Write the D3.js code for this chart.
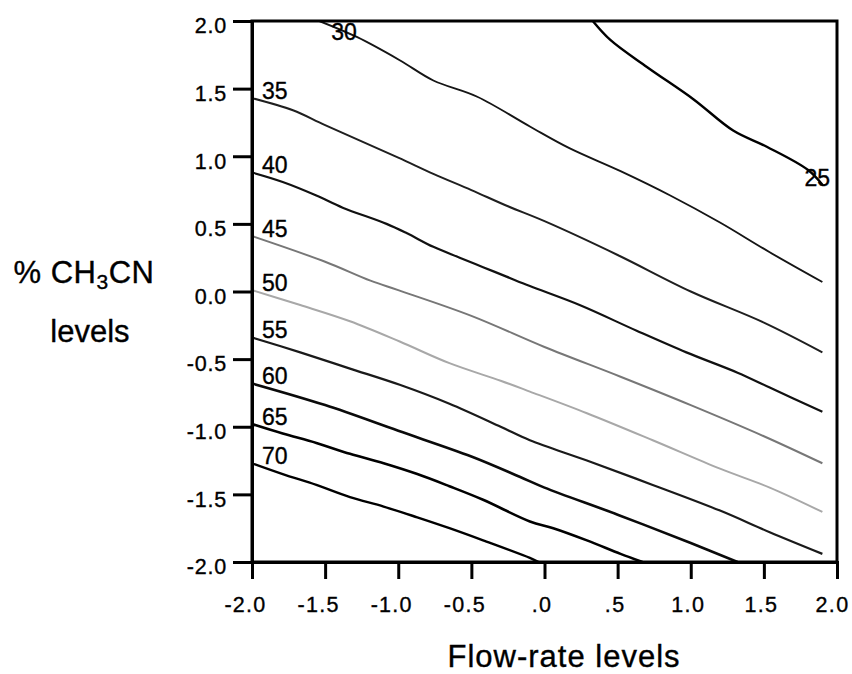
<!DOCTYPE html>
<html>
<head>
<meta charset="utf-8">
<script src="https://cdn.jsdelivr.net/npm/d3@7"></script>
<style>
  body { margin: 0; background: #fff; }
  svg text { font-family: "Liberation Sans", Arial, Helvetica, sans-serif; fill: #000; stroke: #000; stroke-width: 0.35px; }
</style>
</head>
<body>
<svg id="chart" width="852" height="674"></svg>
<script>
// axis ticks and labels
var xTicks = [-2, -1.5, -1, -0.5, 0, 0.5, 1, 1.5, 2];
var xTickLabels = ["-2.0", "-1.5", "-1.0", "-0.5", ".0", ".5", "1.0", "1.5", "2.0"];
var yTicks = [2, 1.5, 1, 0.5, 0, -0.5, -1, -1.5, -2];
var yTickLabels = ["2.0", "1.5", "1.0", "0.5", "0.0", "-0.5", "-1.0", "-1.5", "-2.0"];

// contour levels and the lines ([flow-rate, %CH3CN])
var levels = [25, 30, 35, 40, 45, 50, 55, 60, 65, 70];
var contour25 = [[0.33, 2.0], [0.45, 1.86], [0.70, 1.66], [1.02, 1.42], [1.29, 1.19], [1.52, 1.07], [1.80, 0.90], [1.90, 0.79]];
var contour30 = [[-1.54, 2.0], [-1.28, 1.88], [-0.99, 1.71], [-0.76, 1.56], [-0.46, 1.44], [-0.10, 1.22], [0.17, 1.06], [0.52, 0.89], [0.86, 0.71], [1.20, 0.51], [1.54, 0.29], [1.90, 0.07]];
var contour35 = [[-2.0, 1.43], [-1.72, 1.34], [-1.5, 1.23], [-1.0, 0.99], [-0.76, 0.87], [-0.5, 0.75], [-0.25, 0.63], [0.0, 0.52], [0.5, 0.27], [1.0, 0.0], [1.5, -0.23], [1.9, -0.45]];
var contour40 = [[-2.0, 0.88], [-1.79, 0.81], [-1.56, 0.71], [-1.38, 0.62], [-1.08, 0.50], [-0.94, 0.43], [-0.76, 0.33], [-0.58, 0.25], [-0.42, 0.18], [-0.26, 0.11], [-0.10, 0.04], [0.24, -0.10], [0.63, -0.29], [0.97, -0.45], [1.32, -0.60], [1.54, -0.71], [1.90, -0.89]];
var contour45 = [[-2.0, 0.41], [-1.5, 0.22], [-1.19, 0.08], [-1.0, 0.01], [-0.5, -0.18], [0.0, -0.41], [0.52, -0.63], [1.0, -0.84], [1.5, -1.07], [1.9, -1.27]];
var contour50 = [[-2.0, 0.01], [-1.67, -0.10], [-1.33, -0.22], [-0.99, -0.37], [-0.65, -0.53], [-0.30, -0.66], [-0.10, -0.74], [0.29, -0.90], [0.74, -1.10], [1.20, -1.31], [1.54, -1.45], [1.90, -1.63]];
var contour55 = [[-2.0, -0.34], [-1.67, -0.45], [-1.33, -0.57], [-0.99, -0.69], [-0.65, -0.83], [-0.30, -1.00], [-0.10, -1.10], [0.29, -1.25], [0.74, -1.43], [1.20, -1.62], [1.54, -1.78], [1.90, -1.94]];
var contour60 = [[-2.0, -0.68], [-1.5, -0.84], [-1.0, -1.03], [-0.5, -1.22], [-0.17, -1.37], [0.0, -1.45], [0.5, -1.65], [1.0, -1.86], [1.32, -2.0]];
var contour65 = [[-2.0, -0.98], [-1.79, -1.05], [-1.56, -1.12], [-1.33, -1.20], [-1.10, -1.27], [-0.87, -1.35], [-0.65, -1.44], [-0.42, -1.54], [-0.10, -1.70], [0.06, -1.75], [0.29, -1.84], [0.52, -1.94], [0.67, -2.0]];
var contour70 = [[-2.0, -1.27], [-1.79, -1.35], [-1.56, -1.43], [-1.33, -1.52], [-1.10, -1.59], [-0.87, -1.67], [-0.65, -1.75], [-0.42, -1.84], [-0.10, -1.97], [-0.04, -2.0]];

var contourLines = [contour25, contour30, contour35, contour40, contour45, contour50, contour55, contour60, contour65, contour70];

var margin = { top: 21, right: 15, bottom: 112, left: 252 },
    width = 837 - margin.left,
    height = 562 - margin.top;

var svg = d3.select("#chart");
var g = svg.append("g").attr("transform", "translate(" + margin.left + "," + margin.top + ")");

var x = d3.scaleLinear().domain([-2, 2]).range([0, width]);
var y = d3.scaleLinear().domain([-2, 2]).range([height, 0]);

// line colours / widths per level (45 and 50 are the grey ones)
var strokeFor = { 25: "#000", 30: "#151515", 35: "#1f1f1f", 40: "#111", 45: "#777", 50: "#a8a8a8", 55: "#1a1a1a", 60: "#0a0a0a", 65: "#000", 70: "#000" };
var widthFor = { 25: 2.4, 30: 1.9, 35: 2, 40: 2.2, 45: 2, 50: 2, 55: 2.2, 60: 2.6, 65: 2.6, 70: 2.4 };

g.append("clipPath").attr("id", "plotclip")
  .append("rect").attr("width", width).attr("height", height);

var line = d3.line()
  .curve(d3.curveCatmullRom.alpha(0.5))
  .x(function(d) { return x(d[0]); })
  .y(function(d) { return y(d[1]); });

g.append("g").attr("clip-path", "url(#plotclip)")
  .selectAll("path")
  .data(contourLines)
  .enter()
  .append("path")
  .attr("d", line)
  .attr("fill", "none")
  .attr("stroke", function(d, i) { return strokeFor[levels[i]]; })
  .attr("stroke-width", function(d, i) { return widthFor[levels[i]]; })
  .attr("stroke-linejoin", "round");

// contour labels
g.selectAll(".clabel")
  .data(contourLines)
  .enter()
  .append("text")
  .attr("class", "clabel")
  .attr("font-size", "23px")
  .attr("x", function(d, i) {
    if (levels[i] == 25) return x(d[d.length - 1][0]) - 18;
    if (levels[i] == 30) return x(d[0][0]) + 12;
    return x(d[0][0]) + 10;
  })
  .attr("y", function(d, i) {
    if (levels[i] == 25) return y(d[d.length - 1][1]) + 1;
    if (levels[i] == 30) return y(d[0][1]) + 19;
    return y(d[0][1]) + 1;
  })
  .text(function(d, i) { return levels[i]; });

// frame
g.append("rect")
  .attr("width", width).attr("height", height)
  .attr("fill", "none").attr("stroke", "#000").attr("stroke-width", 3);

// x axis
var xAxis = d3.axisBottom(x)
  .tickValues(xTicks)
  .tickSize(17)
  .tickFormat(function(d, i) { return xTickLabels[i]; });

var xg = g.append("g").attr("transform", "translate(0," + height + ")").call(xAxis);
xg.select(".domain").attr("stroke-width", 3);
xg.selectAll(".tick line").attr("stroke-width", 3);
xg.selectAll(".tick text")
  .attr("font-size", "21.5px")
  .attr("font-family", "Liberation Sans, Arial, sans-serif")
  .attr("letter-spacing", "1.3px")
  .attr("y", 35)
  .attr("dy", "0.71em")
  .attr("dx", function(d) { return d < 0 ? -7 : (d == 2 ? -5 : -3); });

// y axis
var yAxis = d3.axisLeft(y)
  .tickValues(yTicks)
  .tickSize(19)
  .tickFormat(function(d, i) { return yTickLabels[i]; });

var yg = g.append("g").call(yAxis);
yg.select(".domain").attr("stroke-width", 3);
yg.selectAll(".tick line").attr("stroke-width", 3);
yg.selectAll(".tick text")
  .attr("font-size", "21.5px")
  .attr("font-family", "Liberation Sans, Arial, sans-serif")
  .attr("letter-spacing", "0.8px")
  .attr("x", -25)
  .attr("dy", "0.55em");

svg.selectAll(".domain").attr("stroke", "#000");

// axis titles
svg.append("text")
  .attr("x", 564)
  .attr("y", 667)
  .attr("text-anchor", "middle")
  .attr("font-size", "31px")
  .attr("letter-spacing", "1px")
  .text("Flow-rate levels");

var yt = svg.append("text")
  .attr("x", 84)
  .attr("y", 283)
  .attr("text-anchor", "middle")
  .attr("font-size", "31px")
  .attr("letter-spacing", "0.5px");
yt.append("tspan").text("% CH");
yt.append("tspan").attr("font-size", "21px").attr("dy", 6).text("3");
yt.append("tspan").attr("dy", -6).text("CN");

svg.append("text")
  .attr("x", 90)
  .attr("y", 342)
  .attr("text-anchor", "middle")
  .attr("font-size", "31px")
  .text("levels");
</script>
</body>
</html>
